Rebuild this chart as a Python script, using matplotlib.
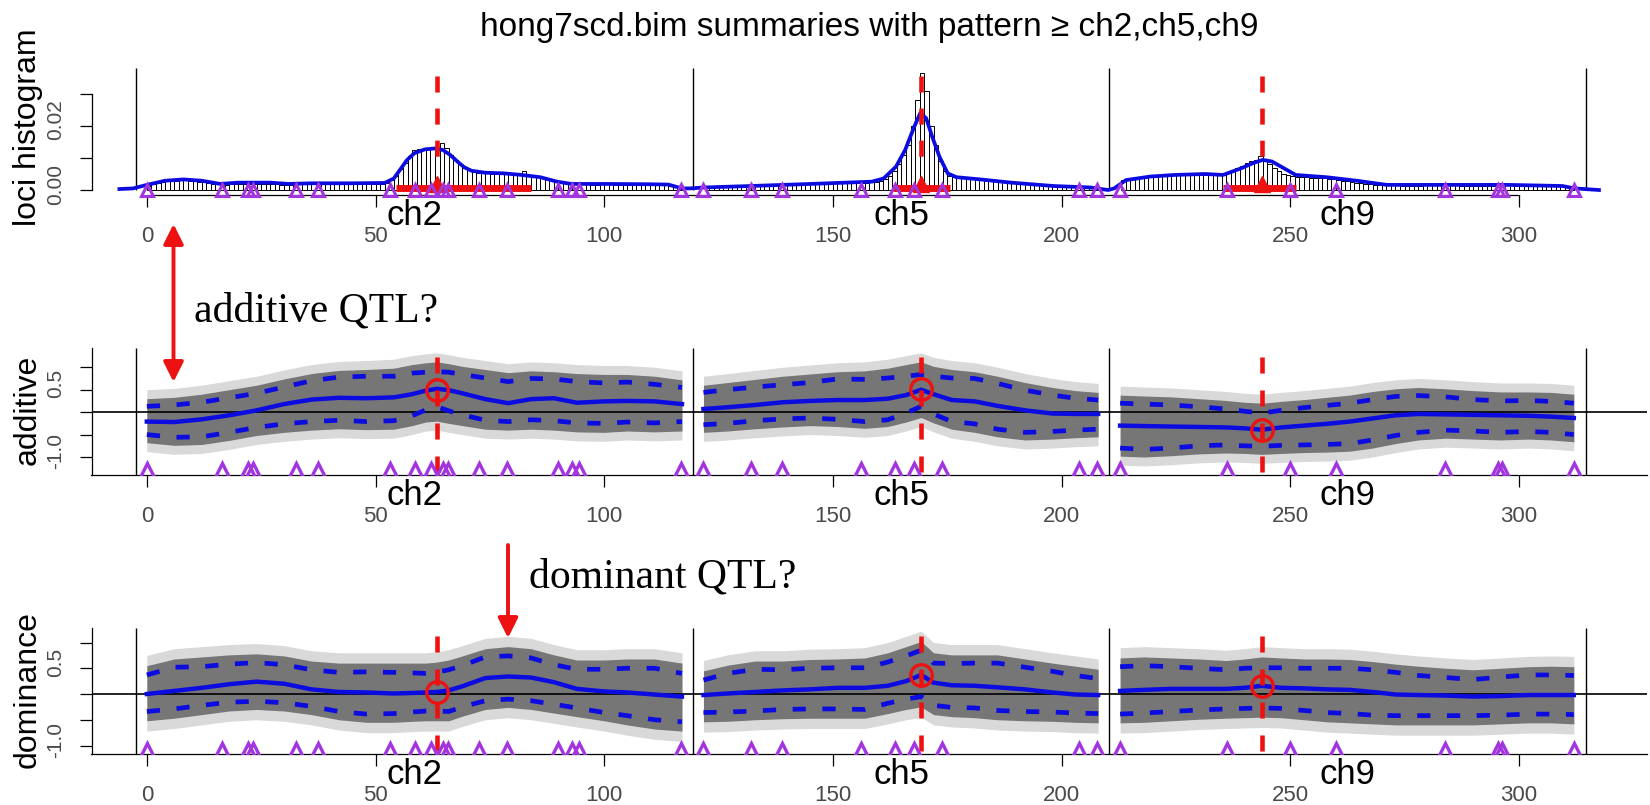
import numpy as np
import matplotlib
matplotlib.use("Agg")
import matplotlib.pyplot as plt
import matplotlib.transforms as mtransforms
from matplotlib.patches import FancyArrowPatch, ArrowStyle

# ---------------------------------------------------------------- data
chrom_names = ["ch2", "ch5", "ch9"]
chrom_breaks = [-2.4, 119.4, 210.4, 314.7]
x_ticks = [0, 50, 100, 150, 200, 250, 300]

qtl_pos = [63.4, 169.3, 243.8]
qtl_additive = [0.50, 0.52, -0.39]
qtl_dominance = [0.03, 0.36, 0.15]

marker_pos = [0, 16.4, 22.1, 23.2, 32.7, 37.4, 53.1, 58.6, 62.1, 64.8, 65.9,
              72.6, 78.7, 90.0, 93.0, 94.4, 116.8, 121.7, 132.2, 138.9, 156.1,
              163.5, 167.7, 173.9, 203.8, 207.8, 212.8, 236.2, 250.0, 260.0,
              283.9, 295.4, 296.4, 312.0]

hpd_start = [54.5, 163.1, 235.3]
hpd_end = [84.1, 175.7, 251.2]

# loci histogram, 1 cM bins, heights in units of 0.001
hist_first_bin = [0, 122, 213]
hist_ch2 = [1.2, 1.8,
            2.3, 2.5, 2.7, 2.8, 2.9, 3.0, 3.0, 2.9, 2.8, 2.6, 2.4,
            2.2, 2.0, 1.8, 1.6, 1.6,
            1.8, 1.9, 2.0, 2.0, 2.0, 2.0, 2.0, 1.9, 1.9, 1.8, 1.8, 1.7, 1.6,
            1.7, 1.7, 1.8, 1.8, 1.8, 1.8, 1.9, 1.9, 1.9, 1.9, 1.9, 1.9, 1.9,
            1.9, 1.9, 1.9, 1.9, 1.9, 1.9, 1.9, 2.0, 2.1,
            3.0, 4.5, 6.5, 8.5, 10.5, 12.5, 12.8, 12.8, 13.0, 13.0, 13.4,
            14.8, 13.0, 11.0, 9.5, 8.2, 7.0, 6.2, 5.6, 5.3, 5.2, 5.2, 5.1,
            5.1, 5.0, 5.0, 4.9, 4.9, 5.0, 6.0, 4.8, 4.6, 4.3, 4.0, 3.6, 3.2,
            2.8, 2.4, 2.1, 1.9,
            1.8, 1.7, 1.8, 1.8, 1.7, 1.7, 1.8, 1.8, 1.8, 1.7, 1.7, 1.7, 1.7,
            1.8, 1.7, 1.7, 1.7, 1.6, 1.6, 1.6,
            1.5, 1.3, 1.0, 0.6]
hist_ch5 = [0.6, 0.8, 0.9, 1.0, 1.0, 1.1, 1.1, 1.2, 1.2, 1.3, 1.3, 1.4, 1.4, 1.5,
            1.5, 1.6, 1.6, 1.7, 1.7, 1.8, 1.8, 1.8, 1.9, 1.9, 1.9, 2.0, 2.0,
            2.1, 2.1,
            2.1, 2.2, 2.2, 2.2, 2.3, 2.3, 2.3, 2.4, 2.5, 2.8,
            3.5, 4.5, 6.0, 8.0, 11.0, 14.0, 20.0, 28.0, 36.5, 31.0, 20.0, 14.0,
            9.0, 6.0, 4.5,
            4.0, 3.8, 3.6, 3.4, 3.3, 3.2, 3.1, 3.0, 2.9, 2.8, 2.7, 2.6, 2.5,
            2.4, 2.3,
            2.1, 2.0, 1.9, 1.8, 1.7, 1.6, 1.5, 1.4, 1.3, 1.2, 1.1, 1.0, 1.0,
            0.9, 0.8, 0.7, 0.6]
hist_ch9 = [3.0,
            3.3, 3.6, 3.9, 4.1, 4.3, 4.5, 4.6, 4.7, 4.8, 4.8, 4.9, 4.9, 5.0,
            5.0, 5.0, 4.9, 4.9, 4.8, 4.7, 4.6, 4.6,
            4.8, 5.3, 6.0, 6.8, 7.6, 8.4, 9.0, 9.4, 10.5, 9.0, 8.0, 7.0, 6.0,
            5.0, 4.6, 4.3,
            4.2, 4.1, 4.0, 3.9, 3.8, 3.7, 3.6, 3.5, 3.3, 3.1, 2.9, 2.7, 2.5,
            2.3, 2.1, 1.9, 1.8, 1.7, 1.6, 1.5,
            1.5, 1.5, 1.5, 1.4, 1.4, 1.4, 1.4, 1.4, 1.5, 1.5, 1.5, 1.5, 1.5,
            1.5, 1.5, 1.5, 1.4, 1.4, 1.4, 1.4, 1.4, 1.4, 1.4, 1.4, 1.5, 1.5,
            1.5, 1.5, 1.4, 1.4, 1.4, 1.4, 1.4, 1.4, 1.3, 1.3, 1.3, 1.2, 1.1,
            1.0, 0.8]

# smoothed loci density (units of 0.001)
dens_pos = [-6, -3, 0, 4, 8, 12, 16, 20, 27, 31, 36, 45, 52, 54, 55.3, 56.9,
            58.5, 60.8, 63.2, 64.7, 66.3, 67.9, 69.4, 71, 74, 78, 82, 86, 89.7,
            92.8, 100, 110, 114, 117,
            118.7, 122, 132, 145.2, 158.5, 161.1, 163.8, 165.8, 167.8, 169.1,
            170.4, 171.7, 173.3, 175.1, 177.0, 182.3, 189, 198.2, 206.2, 210.2,
            211.5, 214.1, 219.4, 224.7, 231.4, 235.3, 239.3, 242, 244, 246,
            248.6, 251.2, 257.9, 264.5, 271.1, 284.4, 297.6, 309.5, 312.2, 317.5]
dens_val = [0.3, 0.5, 1.6, 2.9, 3.3, 2.9, 1.9, 2.3, 2.3, 1.9, 2.1, 2.1, 2.2,
            3.6, 6.2, 9.4, 11.5, 12.7, 13.0, 12.5, 11.0, 8.9, 7.1, 6.0, 5.4,
            5.2, 4.7, 4.0, 2.6, 1.9, 1.9, 1.8, 1.7, 0.5,
            0.5, 0.8, 1.25, 1.9, 2.6, 3.6, 7.3, 12.5, 19.8, 24.0, 22.4, 16.7,
            10.4, 5.2, 4.0, 3.3, 2.3, 1.25, 0.8, 0.0,
            0.5, 3.1, 4.2, 4.7, 5.0, 4.7, 6.8, 8.5, 9.4, 8.9, 6.8, 4.7, 4.0,
            2.9, 1.6, 1.6, 1.6, 1.25, 0.5, 0.0]

# positions at which the effect summaries are tabulated
ch2_knots = [0, 6, 12, 18, 24, 30, 36, 42, 48, 54, 58, 61, 63.4, 66, 69, 74,
             79, 84, 89, 94, 100, 105, 111, 117]
ch5_knots = [121.7, 127, 133, 139, 145, 151, 157, 162, 166, 169.3, 172, 176,
             181, 186, 192, 198, 203, 208]
ch9_knots = [212.8, 218, 224, 230, 236, 240, 243.8, 248, 253, 258, 263, 268,
             273, 278, 284, 290, 296, 302, 307, 312]

# additive effects
add_mean_ch2 = [-0.21, -0.22, -0.16, -0.07, 0.04, 0.18, 0.28, 0.32, 0.31, 0.33,
                0.40, 0.48, 0.52, 0.49, 0.42, 0.29, 0.20, 0.29, 0.31, 0.21,
                0.24, 0.25, 0.24, 0.18]
add_upper_ch2 = [0.13, 0.16, 0.22, 0.32, 0.42, 0.56, 0.70, 0.78, 0.80, 0.80,
                 0.87, 0.89, 0.90, 0.89, 0.84, 0.76, 0.68, 0.75, 0.74, 0.68,
                 0.65, 0.67, 0.62, 0.55]
add_lower_ch2 = [-0.50, -0.56, -0.55, -0.45, -0.34, -0.26, -0.21, -0.18, -0.21,
                 -0.19, -0.08, 0.05, 0.12, 0.03, -0.06, -0.18, -0.21, -0.17,
                 -0.19, -0.24, -0.25, -0.22, -0.24, -0.21]
add_cloud_hi_ch2 = [0.30, 0.33, 0.40, 0.50, 0.60, 0.74, 0.86, 0.93, 0.95, 0.98,
                    1.06, 1.10, 1.12, 1.08, 1.02, 0.95, 0.88, 0.92, 0.90, 0.86,
                    0.84, 0.84, 0.80, 0.72]
add_cloud_lo_ch2 = [-0.68, -0.74, -0.72, -0.63, -0.52, -0.45, -0.40, -0.37,
                    -0.39, -0.38, -0.30, -0.22, -0.20, -0.25, -0.30, -0.38,
                    -0.40, -0.38, -0.40, -0.44, -0.45, -0.42, -0.44, -0.42]

add_mean_ch5 = [0.07, 0.11, 0.16, 0.22, 0.25, 0.27, 0.27, 0.30, 0.38, 0.50,
                0.40, 0.27, 0.24, 0.14, 0.04, -0.03, -0.04, -0.04]
add_upper_ch5 = [0.44, 0.50, 0.56, 0.61, 0.66, 0.74, 0.73, 0.76, 0.80, 0.84,
                 0.80, 0.76, 0.75, 0.64, 0.49, 0.38, 0.31, 0.27]
add_lower_ch5 = [-0.28, -0.25, -0.19, -0.15, -0.13, -0.16, -0.21, -0.17, -0.02,
                 0.13, -0.04, -0.21, -0.26, -0.38, -0.45, -0.43, -0.40, -0.38]
add_cloud_hi_ch5 = [0.60, 0.66, 0.73, 0.80, 0.85, 0.90, 0.92, 0.98, 1.06, 1.12,
                    1.02, 0.95, 0.90, 0.80, 0.66, 0.55, 0.48, 0.44]
add_cloud_lo_ch5 = [-0.45, -0.42, -0.37, -0.33, -0.30, -0.32, -0.36, -0.32,
                    -0.22, -0.12, -0.24, -0.38, -0.45, -0.55, -0.62, -0.60,
                    -0.57, -0.55]

add_mean_ch9 = [-0.30, -0.31, -0.32, -0.33, -0.34, -0.36, -0.39, -0.34, -0.30,
                -0.26, -0.21, -0.14, -0.07, -0.04, -0.05, -0.06, -0.07, -0.08,
                -0.10, -0.13]
add_upper_ch9 = [0.20, 0.18, 0.16, 0.12, 0.07, 0.02, -0.02, 0.04, 0.10, 0.15,
                 0.20, 0.28, 0.35, 0.37, 0.34, 0.28, 0.25, 0.26, 0.24, 0.20]
add_lower_ch9 = [-0.80, -0.83, -0.80, -0.75, -0.73, -0.75, -0.76, -0.74, -0.73,
                 -0.72, -0.70, -0.62, -0.52, -0.45, -0.40, -0.42, -0.45, -0.43,
                 -0.45, -0.50]
add_cloud_hi_ch9 = [0.38, 0.36, 0.34, 0.30, 0.26, 0.22, 0.20, 0.24, 0.28, 0.33,
                    0.38, 0.46, 0.52, 0.55, 0.52, 0.48, 0.45, 0.45, 0.44, 0.40]
add_cloud_lo_ch9 = [-0.98, -1.00, -0.97, -0.93, -0.91, -0.92, -0.94, -0.92,
                    -0.90, -0.89, -0.87, -0.80, -0.70, -0.62, -0.58, -0.60,
                    -0.62, -0.60, -0.62, -0.66]

# dominance effects
dom_mean_ch2 = [0.00, 0.06, 0.12, 0.19, 0.24, 0.20, 0.09, 0.04, 0.03, 0.01,
                0.02, 0.03, 0.04, 0.07, 0.15, 0.31, 0.34, 0.32, 0.23, 0.10,
                0.05, 0.03, -0.01, -0.05]
dom_upper_ch2 = [0.37, 0.52, 0.53, 0.58, 0.61, 0.57, 0.47, 0.42, 0.43, 0.42,
                 0.41, 0.40, 0.42, 0.47, 0.55, 0.72, 0.74, 0.70, 0.57, 0.48,
                 0.48, 0.50, 0.50, 0.40]
dom_lower_ch2 = [-0.34, -0.29, -0.22, -0.16, -0.14, -0.17, -0.24, -0.34, -0.39,
                 -0.38, -0.35, -0.33, -0.33, -0.34, -0.25, -0.13, -0.10, -0.13,
                 -0.20, -0.27, -0.36, -0.42, -0.50, -0.54]
dom_cloud_hi_ch2 = [0.55, 0.68, 0.72, 0.76, 0.78, 0.74, 0.64, 0.60, 0.60, 0.60,
                    0.60, 0.60, 0.62, 0.66, 0.74, 0.88, 0.92, 0.88, 0.76, 0.66,
                    0.66, 0.68, 0.68, 0.60]
dom_cloud_lo_ch2 = [-0.52, -0.47, -0.40, -0.33, -0.30, -0.33, -0.40, -0.50,
                    -0.55, -0.55, -0.53, -0.52, -0.52, -0.52, -0.43, -0.30,
                    -0.26, -0.30, -0.37, -0.44, -0.52, -0.60, -0.68, -0.72]

dom_mean_ch5 = [-0.02, 0.01, 0.04, 0.07, 0.09, 0.12, 0.12, 0.16, 0.25, 0.37,
                0.22, 0.17, 0.16, 0.13, 0.09, 0.03, -0.01, -0.02]
dom_upper_ch5 = [0.27, 0.40, 0.48, 0.47, 0.50, 0.51, 0.51, 0.62, 0.74, 0.85,
                 0.60, 0.59, 0.60, 0.60, 0.52, 0.44, 0.36, 0.30]
dom_lower_ch5 = [-0.36, -0.35, -0.33, -0.30, -0.29, -0.29, -0.30, -0.18, -0.10,
                 -0.05, -0.22, -0.26, -0.27, -0.32, -0.34, -0.35, -0.37, -0.38]
dom_cloud_hi_ch5 = [0.45, 0.56, 0.64, 0.64, 0.67, 0.68, 0.70, 0.80, 0.92, 1.02,
                    0.80, 0.76, 0.76, 0.76, 0.68, 0.60, 0.54, 0.48]
dom_cloud_lo_ch5 = [-0.54, -0.53, -0.50, -0.48, -0.47, -0.47, -0.47, -0.38,
                    -0.30, -0.25, -0.40, -0.44, -0.46, -0.50, -0.52, -0.53,
                    -0.55, -0.56]

dom_mean_ch9 = [0.06, 0.08, 0.10, 0.10, 0.10, 0.12, 0.16, 0.12, 0.11, 0.09,
                0.08, 0.04, -0.01, -0.02, -0.03, -0.05, -0.04, -0.02, -0.02,
                -0.02]
dom_upper_ch9 = [0.53, 0.55, 0.53, 0.50, 0.47, 0.50, 0.51, 0.51, 0.50, 0.50,
                 0.50, 0.47, 0.42, 0.36, 0.32, 0.28, 0.33, 0.37, 0.37, 0.36]
dom_lower_ch9 = [-0.39, -0.37, -0.34, -0.31, -0.29, -0.28, -0.27, -0.28, -0.32,
                 -0.36, -0.38, -0.41, -0.42, -0.42, -0.42, -0.42, -0.41, -0.39,
                 -0.39, -0.40]
dom_cloud_hi_ch9 = [0.70, 0.72, 0.70, 0.68, 0.65, 0.68, 0.72, 0.70, 0.68, 0.68,
                    0.67, 0.63, 0.58, 0.54, 0.50, 0.47, 0.50, 0.53, 0.54, 0.53]
dom_cloud_lo_ch9 = [-0.56, -0.55, -0.52, -0.49, -0.47, -0.46, -0.45, -0.46,
                    -0.50, -0.54, -0.56, -0.58, -0.60, -0.60, -0.60, -0.60,
                    -0.58, -0.56, -0.56, -0.58]

title_text = "hong7scd.bim summaries with pattern \u2265 ch2,ch5,ch9"

# ---------------------------------------------------------------- styles
BLUE = "#0c0ce0"
RED = "#ee1111"
PURPLE = "#a235e0"
CLOUD = "#767676"
HALO = "#d9d9d9"
TICKCOL = "#4a4a4a"
plt.rcParams["font.family"] = ["Liberation Sans", "DejaVu Sans"]
SERIF = ["Liberation Serif", "DejaVu Serif"]

W, H, DPI = 1650, 805, 100
fig = plt.figure(figsize=(W / DPI, H / DPI), dpi=DPI)
fig.patch.set_facecolor("white")

X_LEFT, X_RIGHT = 91.5, 1647.0
XLIM = (-12.1, 328.0)


def fy(py):
    return 1 - py / H


def fx(px):
    return px / W


def make_axes(top_px, bottom_px, ylim):
    ax = fig.add_axes([fx(X_LEFT), fy(bottom_px), (X_RIGHT - X_LEFT) / W,
                       (bottom_px - top_px) / H])
    ax.set_xlim(*XLIM)
    ax.set_ylim(*ylim)
    for s in ax.spines.values():
        s.set_visible(False)
        s.set_linewidth(0.9)
    ax.patch.set_alpha(0)
    ax.set_xticks(x_ticks)
    ax.set_xticklabels([])
    ax.tick_params(axis="x", direction="out", length=8.5, width=0.9)
    ax.tick_params(axis="y", direction="out", length=8.5, width=0.9,
                   labelleft=False)
    ax.spines["left"].set_visible(True)
    ax.spines["bottom"].set_visible(True)
    return ax


def x_labels(ax, axis_px):
    tr = mtransforms.blended_transform_factory(ax.transData, fig.transFigure)
    for t in x_ticks:
        ax.text(t, fy(axis_px + 47), str(t), transform=tr, ha="center",
                va="baseline", fontsize=16, color=TICKCOL)
    for i, name in enumerate(chrom_names):
        mid = 0.5 * (chrom_breaks[i] + chrom_breaks[i + 1])
        ax.text(mid, fy(axis_px + 30), name, transform=tr, ha="center",
                va="baseline", fontsize=25, color="black")


def y_labels(ax, values, texts, center_py, name):
    tr = mtransforms.blended_transform_factory(fig.transFigure, ax.transData)
    tr = tr + mtransforms.ScaledTranslation(0, 6 / DPI, fig.dpi_scale_trans)
    for v, t in zip(values, texts):
        ax.text(fx(56), v, t, transform=tr, rotation=90, ha="center",
                va="center", fontsize=15, color=TICKCOL)
    fig.text(fx(28), fy(center_py), name, rotation=90, ha="center",
             va="center", fontsize=23)


# ---------------------------------------------------------------- top panel
ax0 = make_axes(60, 195, (-0.00156, 0.0406))
ax0.spines["left"].set_bounds(0, 0.03)
ax0.spines["bottom"].set_bounds(0, 300)
ax0.set_yticks([0, 0.01, 0.02, 0.03])

for first, heights in zip(hist_first_bin, [hist_ch2, hist_ch5, hist_ch9]):
    lefts = first + np.arange(len(heights))
    ax0.bar(lefts, np.asarray(heights) * 1e-3, width=1.0, align="edge",
            facecolor="white", edgecolor="black", linewidth=0.7, zorder=2)

ax0.vlines(chrom_breaks, 0, 0.038, color="black", lw=1.0, zorder=3)
ax0.plot(dens_pos, np.asarray(dens_val) * 1e-3, color=BLUE, lw=2.7,
         solid_joinstyle="round", zorder=4)
for q in qtl_pos:
    ax0.plot([q, q], [0.0356, 0.0094], color=RED, lw=3.3,
             linestyle=(0, (3.5, 3.5)), zorder=5)
for a, b in zip(hpd_start, hpd_end):
    ax0.plot([a, b], [0.0005, 0.0005], color=RED, lw=5,
             solid_capstyle="butt", zorder=5)
ax0.plot(qtl_pos, [0.0018] * 3, "^", color=RED, ms=11, zorder=6)
ax0.plot(marker_pos, [0] * len(marker_pos), "^", mfc="none", mec=PURPLE,
         mew=2.2, ms=9, zorder=7, clip_on=False)
x_labels(ax0, 195)
y_labels(ax0, [0, 0.02], ["0.00", "0.02"], 127.5, "loci histogram")


# ---------------------------------------------------------------- effect panels
def effect_panel(top_px, bottom_px, ylim, sep_top, tri_y, dash_top, series,
                 qtl_eff, halo, name, axis_px):
    ax = make_axes(top_px, bottom_px, ylim)
    ax.spines["left"].set_bounds(ylim[0], sep_top)
    ax.set_yticks([-1.0, -0.5, 0.0, 0.5, 1.0])
    for knots, mean, upper, lower, chi, clo in series:
        k = np.asarray(knots)
        chi = np.asarray(chi)
        clo = np.asarray(clo)
        ax.fill_between(k, clo - halo, chi + halo, color=HALO, lw=0, zorder=1)
        ax.fill_between(k, clo, chi, color=CLOUD, lw=0, zorder=2)
    ax.axhline(0, color="black", lw=1.2, zorder=3)
    for knots, mean, upper, lower, chi, clo in series:
        ax.plot(knots, mean, color=BLUE, lw=3.2, zorder=4,
                solid_joinstyle="round")
        for band in (upper, lower):
            ax.plot(knots, band, color=BLUE, lw=3.4, zorder=4,
                    linestyle=(0, (2.8, 3.5)))
    ax.vlines(chrom_breaks, ylim[0], sep_top, color="black", lw=1.0, zorder=3)
    for q in qtl_pos:
        ax.plot([q, q], [dash_top, ylim[0]], color=RED, lw=3.3,
                linestyle=(0, (3.5, 3.7)), zorder=5)
    ax.plot(qtl_pos, qtl_eff, "o", mfc="none", mec=RED, mew=2.4, ms=15.5,
            zorder=6)
    ax.plot(marker_pos, [tri_y] * len(marker_pos), "^", mfc="none",
            mec=PURPLE, mew=2.4, ms=9.5, zorder=7)
    x_labels(ax, axis_px)
    y_labels(ax, [-1.0, 0.5], ["-1.0", "0.5"],
             0.5 * (top_px + bottom_px), name)
    return ax


add_series = [
    (ch2_knots, add_mean_ch2, add_upper_ch2, add_lower_ch2, add_cloud_hi_ch2,
     add_cloud_lo_ch2),
    (ch5_knots, add_mean_ch5, add_upper_ch5, add_lower_ch5, add_cloud_hi_ch5,
     add_cloud_lo_ch5),
    (ch9_knots, add_mean_ch9, add_upper_ch9, add_lower_ch9, add_cloud_hi_ch9,
     add_cloud_lo_ch9),
]
dom_series = [
    (ch2_knots, dom_mean_ch2, dom_upper_ch2, dom_lower_ch2, dom_cloud_hi_ch2,
     dom_cloud_lo_ch2),
    (ch5_knots, dom_mean_ch5, dom_upper_ch5, dom_lower_ch5, dom_cloud_hi_ch5,
     dom_cloud_lo_ch5),
    (ch9_knots, dom_mean_ch9, dom_upper_ch9, dom_lower_ch9, dom_cloud_hi_ch9,
     dom_cloud_lo_ch9),
]

effect_panel(345, 475, (-1.40, 1.496), 1.42, -1.28, 1.23, add_series,
             qtl_additive, 0.2, "additive", 475)
effect_panel(625, 754, (-1.165, 1.34), 1.28, -1.09, 1.13, dom_series,
             qtl_dominance, 0.2, "dominance", 754)

# ---------------------------------------------------------------- title and notes
fig.text(fx(0.5 * (X_LEFT + X_RIGHT)), fy(36), title_text, ha="center",
         va="baseline", fontsize=24,
         family=["Liberation Sans", "DejaVu Sans"])

fig.text(fx(194), fy(321), "additive QTL?", ha="left", va="baseline",
         fontsize=30, family=SERIF)
fig.text(fx(529), fy(587), "dominant QTL?", ha="left", va="baseline",
         fontsize=30, family=SERIF)

two_head = ArrowStyle("<|-|>", head_length=0.6, head_width=0.3)
one_head = ArrowStyle("-|>", head_length=0.6, head_width=0.3)
fig.patches.append(FancyArrowPatch((fx(173.5), fy(224)), (fx(173.5), fy(382)),
                                   transform=fig.transFigure,
                                   arrowstyle=two_head, mutation_scale=20,
                                   color=RED, lw=2.8, shrinkA=0, shrinkB=0))
fig.patches.append(FancyArrowPatch((fx(508), fy(545)), (fx(508), fy(638)),
                                   transform=fig.transFigure,
                                   arrowstyle=one_head, mutation_scale=20,
                                   color=RED, lw=2.8, shrinkA=0, shrinkB=0))

fig.savefig("out.png", dpi=DPI)
